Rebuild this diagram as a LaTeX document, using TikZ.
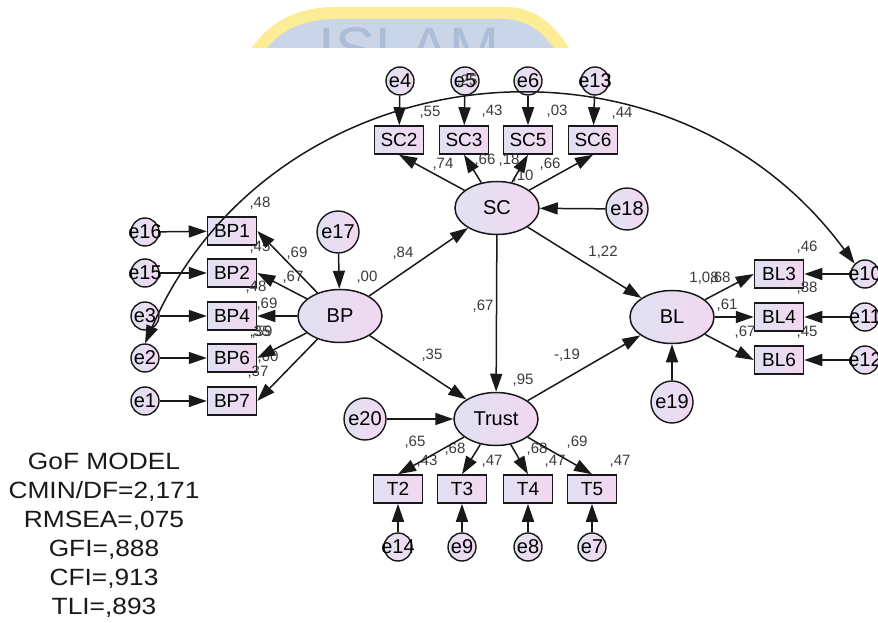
\documentclass[tikz,border=0pt]{standalone}
\usepackage{fontspec}
\setmainfont{Liberation Sans}
\usetikzlibrary{shapes.geometric,arrows.meta}
\definecolor{fillL}{RGB}{224,225,242}
\definecolor{fillR}{RGB}{242,216,240}
\definecolor{ink}{RGB}{25,25,25}
\definecolor{wmyellow}{RGB}{252,236,150}
\definecolor{wmblue}{RGB}{202,214,232}
\definecolor{wmletter}{RGB}{172,189,216}
\tikzset{
  lat/.style={ellipse,draw=ink,line width=1.5pt,left color=fillL,right color=fillR,
    minimum width=84pt,minimum height=53pt,inner sep=0pt,font=\fontsize{20}{20}\selectfont},
  obs/.style={rectangle,draw=ink,line width=1.5pt,left color=fillL,right color=fillR,
    minimum width=49pt,minimum height=28pt,inner sep=0pt,font=\fontsize{19}{19}\selectfont},
  err/.style={circle,draw=ink,line width=1.4pt,left color=fillL,right color=fillR,
    minimum size=28pt,inner sep=0pt,font=\fontsize{20}{20}\selectfont},
  dist/.style={err,minimum size=42pt},
  coef/.style={inner sep=0pt,text=ink!85,font=\fontsize{15}{15}\selectfont},
  arr/.style={-{Triangle[length=18pt,width=12pt]},line width=1.5pt,draw=ink},
  gof/.style={inner sep=0pt,text=ink,font=\fontsize{23.5}{29}\selectfont},
}
\begin{document}
\begin{tikzpicture}[x=1pt,y=1pt]
\useasboundingbox (0,0) rectangle (878,622);
\fill[white] (0,0) rectangle (878,622);
% watermark
\begin{scope}
\clip (0,574) rectangle (878,622);
\fill[wmyellow] (243,560) to[out=62,in=180] (335,615) -- (505,615) to[out=0,in=118] (577,560) -- cycle;
\fill[wmblue] (258,560) to[out=62,in=180] (338,603) -- (502,603) to[out=0,in=118] (562,560) -- cycle;
\node[anchor=base,inner sep=0pt,text=wmletter,font=\fontsize{60}{60}\selectfont] (wm) at (409,552) {ISLAM};
\end{scope}

% SC block
\node[err] (e4) at (400,541) {e4};
\node[err] (e5) at (465,541) {e5};
\node[err] (e6) at (528,541) {e6};
\node[err] (e13) at (595,541) {\makebox[0pt]{e13}};
\node[obs] (SC2) at (399,482) {SC2};
\node[obs] (SC3) at (464,482) {SC3};
\node[obs] (SC5) at (528,482) {SC5};
\node[obs] (SC6) at (593,482) {SC6};
\node[lat] (SC) at (497,414) {SC};
\node[dist] (e18) at (627,413) {e18};

% BP block
\node[dist] (e17) at (338,390) {e17};
\node[lat] (BP) at (340,306) {BP};
\node[obs] (BP1) at (232,391) {BP1};
\node[obs] (BP2) at (232,349) {BP2};
\node[obs] (BP4) at (232,306) {BP4};
\node[obs] (BP6) at (232,264) {BP6};
\node[obs] (BP7) at (232,221) {BP7};
\node[err] (e16) at (145,390) {\makebox[0pt]{e16}};
\node[err] (e15) at (145,349) {\makebox[0pt]{e15}};
\node[err] (e3) at (145,306) {e3};
\node[err] (e2) at (145,264) {e2};
\node[err] (e1) at (145,221) {e1};

% Trust block
\node[dist] (e20) at (365,203) {e20};
\node[lat] (Trust) at (496,203) {Trust};
\node[obs] (T2) at (398,133) {T2};
\node[obs] (T3) at (462,133) {T3};
\node[obs] (T4) at (528,133) {T4};
\node[obs] (T5) at (592,133) {T5};
\node[err] (e14) at (398,75) {\makebox[0pt]{e14}};
\node[err] (e9) at (462,75) {e9};
\node[err] (e8) at (528,75) {e8};
\node[err] (e7) at (592,75) {e7};

% BL block
\node[lat] (BL) at (672,305) {BL};
\node[obs] (BL3) at (779,348) {BL3};
\node[obs] (BL4) at (779,305) {BL4};
\node[obs] (BL6) at (779,262) {BL6};
\node[err] (e10) at (865,348) {\makebox[0pt]{e10}};
\node[err] (e11) at (865,305) {\makebox[0pt]{e11}};
\node[err] (e12) at (865,262) {\makebox[0pt]{e12}};
\node[dist] (e19) at (672,220) {e19};

% estimates
\node[coef] (k25) at (467,541) {,25};
\node[coef] (rSC2) at (430,510) {,55};
\node[coef] (rSC3) at (492,511) {,43};
\node[coef] (rSC5) at (557,511) {,03};
\node[coef] (rSC6) at (622,509) {,44};
\node[coef] (lSC2) at (443,458) {,74};
\node[coef] (lSC3) at (485,462) {,66};
\node[coef] (lSC5) at (509,462) {,18};
\node[coef] (kSC5) at (523,446) {,10};
\node[coef] (lSC6) at (550,458) {,66};
\node[coef] (rBP1) at (260,419) {,48};
\node[coef] (rBP2) at (260,375) {,45};
\node[coef] (lBP1) at (297,369) {,69};
\node[coef] (lBP2) at (293,345) {,67};
\node[coef] (rBP4) at (256,335) {,48};
\node[coef] (lBP4) at (267,318) {,69};
\node[coef] (rBP6) at (260,290) {,35};
\node[coef] (lBP6) at (262,290) {,59};
\node[coef] (lBP7) at (268,265) {,60};
\node[coef] (rBP7) at (258,250) {,37};
\node[coef] (rBL3) at (807,375) {,46};
\node[coef] (kBL) at (704,344) {1,08};
\node[coef] (lBL3) at (720,344) {,68};
\node[coef] (rBL4) at (807,334) {,88};
\node[coef] (lBL4) at (727,317) {,61};
\node[coef] (lBL6) at (745,290) {,67};
\node[coef] (rBL6) at (807,290) {,45};
\node[coef] (bBPSC) at (403,369) {,84};
\node[coef] (rBP) at (367,345) {,00};
\node[coef] (bSCT) at (483,316) {,67};
\node[coef] (bSCBL) at (603,370) {1,22};
\node[coef] (bBPT) at (432,267) {,35};
\node[coef] (bTBL) at (567,267) {-,19};
\node[coef] (rT) at (523,242) {,95};
\node[coef] (lT2) at (415,180) {,65};
\node[coef] (rT2) at (427,161) {,43};
\node[coef] (lT3) at (455,173) {,68};
\node[coef] (rT3) at (492,161) {,47};
\node[coef] (lT4) at (537,173) {,68};
\node[coef] (rT4) at (555,161) {,47};
\node[coef] (lT5) at (577,180) {,69};
\node[coef] (rT5) at (620,161) {,47};

% paths
\draw[arr] (e4) -- (SC2);
\draw[arr] (e5) -- (SC3);
\draw[arr] (e6) -- (SC5);
\draw[arr] (e13) -- (SC6);
\draw[arr] (SC) -- (SC2.south);
\draw[arr] (SC) -- (SC3.south);
\draw[arr] (SC) -- (SC5.south);
\draw[arr] (SC) -- (SC6.south);
\draw[arr] (e18) -- (SC);
\draw[arr] (e16) -- (BP1);
\draw[arr] (e15) -- (BP2);
\draw[arr] (e3) -- (BP4);
\draw[arr] (e2) -- (BP6);
\draw[arr] (e1) -- (BP7);
\draw[arr] (BP) -- (BP1.east);
\draw[arr] (BP) -- (BP2.east);
\draw[arr] (BP) -- (BP4);
\draw[arr] (BP) -- (BP6.east);
\draw[arr] (BP) -- (BP7.east);
\draw[arr] (e17) -- (BP);
\draw[arr] (BP) -- (SC);
\draw[arr] (BP) -- (Trust);
\draw[arr] (SC) -- (Trust);
\draw[arr] (SC) -- (BL);
\draw[arr] (Trust) -- (BL);
\draw[arr] (e20) -- (Trust);
\draw[arr] (Trust) -- (T2.north);
\draw[arr] (Trust) -- (T3.north);
\draw[arr] (Trust) -- (T4.north);
\draw[arr] (Trust) -- (T5.north);
\draw[arr] (e14) -- (T2);
\draw[arr] (e9) -- (T3);
\draw[arr] (e8) -- (T4);
\draw[arr] (e7) -- (T5);
\draw[arr] (BL) -- (BL3.west);
\draw[arr] (BL) -- (BL4);
\draw[arr] (BL) -- (BL6.west);
\draw[arr] (e10) -- (BL3);
\draw[arr] (e11) -- (BL4);
\draw[arr] (e12) -- (BL6);
\draw[arr] (e19) -- (BL);
\draw[{Triangle[length=18pt,width=12pt]}-{Triangle[length=18pt,width=12pt]},line width=1.5pt,draw=ink]
  (e2.north) to[bend left=60,looseness=1.14] (e10.135);

% fit indices
\node[gof] (gof) at (104,86) {\scalebox{1.12}[1]{\begin{tabular}{@{}c@{}}GoF MODEL\\CMIN/DF=2,171\\RMSEA=,075\\GFI=,888\\CFI=,913\\TLI=,893\end{tabular}}};
\end{tikzpicture}
\end{document}
